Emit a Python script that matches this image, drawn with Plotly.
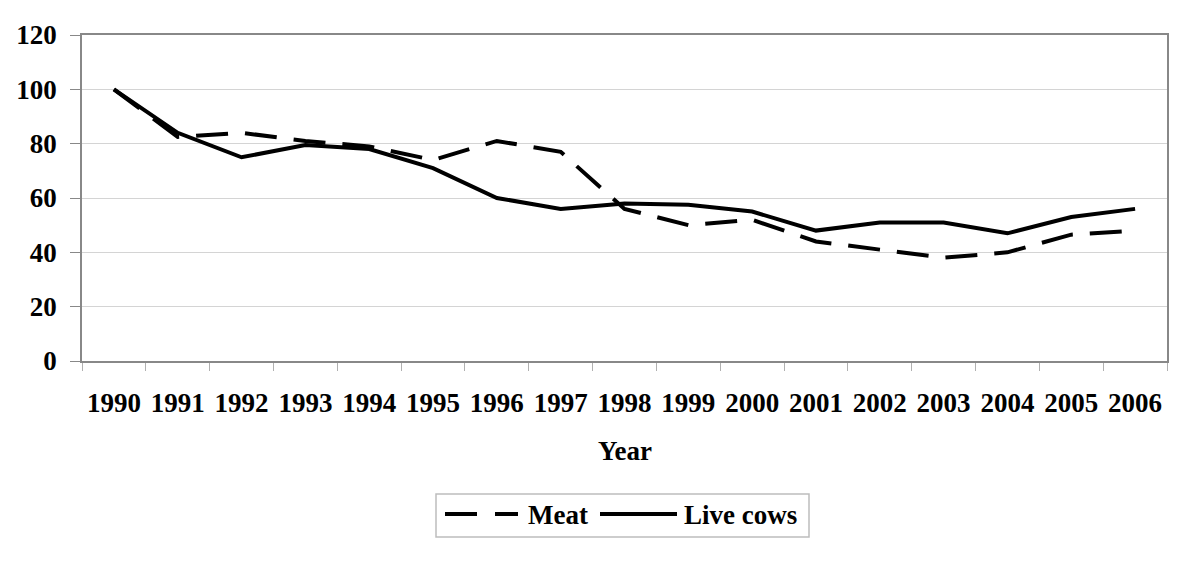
import plotly.graph_objects as go

years = [str(y) for y in range(1990, 2007)]
meat = [100, 82.5, 84, 81, 79, 74, 81, 77, 56, 50, 52, 44, 41, 38, 40, 46.5, 48]
live_cows = [100, 84, 75, 79.5, 78, 71, 60, 56, 58, 57.5, 55, 48, 51, 51, 47, 53, 56]
y_ticks = [0, 20, 40, 60, 80, 100, 120]

W, H = 1200, 588
OFF = 8  # page body margin
# plot area in screen pixels
SX0, SX1, SY0, SY1 = 82, 1167, 35, 361
L, T = SX0 - OFF, SY0 - OFF
R, B = W - (SX1 - OFF), H - (SY1 - OFF)
PW, PH = W - L - R, H - T - B

def px(x):
    return (x - SX0) / PW

def py(y):
    return (SY1 - y) / PH

FONT = "Liberation Serif, Times New Roman, serif"
DASH = "32px,17px"
TF = dict(family=FONT, size=27, color="black", weight="bold")

fig = go.Figure()
fig.add_trace(go.Scatter(x=years, y=meat, mode="lines", name="Meat",
                         line=dict(color="black", width=4, dash=DASH)))
fig.add_trace(go.Scatter(x=years, y=live_cows, mode="lines", name="Live cows",
                         line=dict(color="black", width=4)))

fig.update_layout(
    width=W, height=H,
    margin=dict(l=L, r=R, t=T, b=B, autoexpand=False),
    plot_bgcolor="white", paper_bgcolor="white",
    showlegend=False,
    font=TF,
)
fig.update_xaxes(
    type="category", range=[-0.5, len(years) - 0.5], tickson="boundaries", showgrid=False,
    ticks="outside", ticklen=8, tickcolor="#b0b0b0", tickangle=0,
    showline=True, linecolor="#888888", linewidth=1.5, mirror=True,
    tickfont=TF, ticklabelstandoff=17, automargin=False,
)
fig.update_yaxes(
    range=[0, 120], tickvals=y_ticks, showgrid=True, gridcolor="#d4d4d4", gridwidth=1,
    ticks="outside", ticklen=10, tickcolor="#888888",
    showline=True, linecolor="#888888", linewidth=1.5, mirror=True,
    zeroline=False, tickfont=TF, ticklabelstandoff=8, automargin=False,
)

# axis title
fig.add_annotation(text="Year", xref="paper", yref="paper", x=px(625), y=py(451),
                   xanchor="center", yanchor="middle", showarrow=False, font=TF)

# legend (drawn)
fig.add_shape(type="rect", xref="paper", yref="paper",
              x0=px(436), x1=px(809), y0=py(494), y1=py(537),
              line=dict(color="#bdbdbd", width=1.5), fillcolor="white")
fig.add_shape(type="line", xref="paper", yref="paper",
              x0=px(445), x1=px(518), y0=py(514), y1=py(514),
              line=dict(color="black", width=4, dash="32px,18px"))
fig.add_shape(type="line", xref="paper", yref="paper",
              x0=px(600), x1=px(677), y0=py(514), y1=py(514),
              line=dict(color="black", width=4))
fig.add_annotation(text="Meat", xref="paper", yref="paper", x=px(526), y=py(515),
                   xanchor="left", yanchor="middle", showarrow=False, font=TF)
fig.add_annotation(text="Live cows", xref="paper", yref="paper", x=px(682), y=py(515),
                   xanchor="left", yanchor="middle", showarrow=False, font=TF)

fig.write_html("out.html")
